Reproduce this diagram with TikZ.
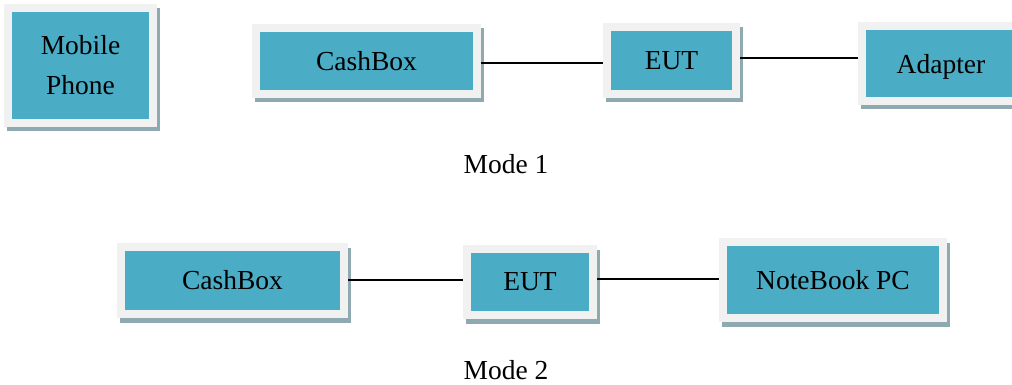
\documentclass[tikz,border=0pt]{standalone}
\usepackage{fontspec}
\setmainfont{Liberation Serif}
\usetikzlibrary{shadows}
\definecolor{framec}{HTML}{F1F1F1}
\definecolor{innerc}{HTML}{4BACC6}
\definecolor{shadowc}{HTML}{8FA9B1}
\begin{document}
\begin{tikzpicture}[x=1pt,y=-1pt,
  unitbox/.style={rectangle, fill=framec, inner sep=0pt,
    font=\fontsize{27.5}{40}\selectfont, align=center,
    drop shadow={shadow xshift=3pt, shadow yshift=-4.5pt, fill=shadowc, opacity=1},
    path picture={\fill[innerc] ([shift={(8pt,8pt)}]path picture bounding box.south west)
       rectangle ([shift={(-8pt,-8pt)}]path picture bounding box.north east);}},
  link/.style={line width=1.8pt, black},
  caption/.style={font=\fontsize{27.5}{33}\selectfont, inner sep=0pt}]
\clip (0,0) rectangle (1012,385);
\fill[white] (0,0) rectangle (1012,385);
% Mode 1
\node[unitbox, minimum width=153pt, minimum height=123pt] (mp) at (80.5,65.5) {Mobile\\Phone};
\node[unitbox, minimum width=229pt, minimum height=74pt] (cb1) at (366.5,61) {CashBox};
\node[unitbox, minimum width=137pt, minimum height=75pt] (eut1) at (671.5,60.5) {EUT};
\node[unitbox, minimum width=166pt, minimum height=83pt, text depth=0pt] (ad) at (941,63.5) {Adapter};
\draw[link] ([yshift=-2pt]cb1.east) -- ([yshift=-2pt]cb1.east -| eut1.west);
\draw[link] ([yshift=2.5pt]eut1.east) -- ([yshift=2.5pt]eut1.east -| ad.west);
\node[caption] (m1) at (506,164) {Mode 1};
% Mode 2
\node[unitbox, minimum width=231pt, minimum height=75pt] (cb2) at (232.5,280.5) {CashBox};
\node[unitbox, minimum width=134pt, minimum height=74pt] (eut2) at (530,282) {EUT};
\node[unitbox, minimum width=228pt, minimum height=84pt] (nb) at (833,280) {NoteBook PC};
\draw[link] ([yshift=0.5pt]cb2.east) -- ([yshift=0.5pt]cb2.east -| eut2.west);
\draw[link] ([yshift=3pt]eut2.east) -- ([yshift=3pt]eut2.east -| nb.west);
\node[caption] (m2) at (506,370) {Mode 2};
\end{tikzpicture}
\end{document}
